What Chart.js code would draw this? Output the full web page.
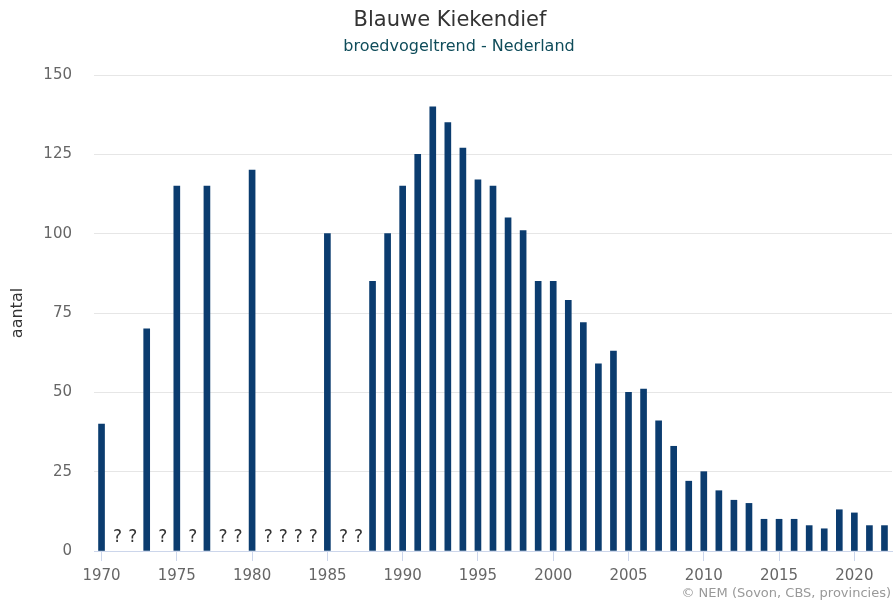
<!DOCTYPE html>
<html>
<head>
<meta charset="utf-8">
<script src="https://cdn.jsdelivr.net/npm/chart.js@4.4.1/dist/chart.umd.min.js"></script>
<style>
  html, body { margin: 0; padding: 0; background: #fff; }
  #wrap { width: 893px; height: 604px; position: relative; }
</style>
</head>
<body>
<div id="wrap"><canvas id="c" width="893" height="604"></canvas></div>
<script>
const titleText = "Blauwe Kiekendief";
const subtitleText = "broedvogeltrend - Nederland";
const yAxisTitle = "aantal";
const creditText = "© NEM (Sovon, CBS, provincies)";
const missingMark = "?";

const years = [];
for (let y = 1970; y <= 2022; y++) years.push(y);

// null = no count (shown as "?")
const counts = [
  40, null, null, 70, null, 115, null, 115, null, null,   // 1970-1979
  120, null, null, null, null, 100, null, null, 85, 100,  // 1980-1989
  115, 125, 140, 135, 127, 117, 115, 105, 101, 85,        // 1990-1999
  85, 79, 72, 59, 63, 50, 51, 41, 33, 22,                 // 2000-2009
  25, 19, 16, 15, 10, 10, 10, 8, 7, 13,                   // 2010-2019
  12, 8, 8                                                // 2020-2022
];

const yTicks = [0, 25, 50, 75, 100, 125, 150];
const xTickEvery = 5;

const FONT = "'DejaVu Sans', sans-serif";

const extras = {
  id: 'extras',
  afterDatasetsDraw(chart) {
    const ctx = chart.ctx;
    const xs = chart.scales.x, ys = chart.scales.y;
    ctx.save();
    ctx.fillStyle = '#333333';
    ctx.font = "17px " + FONT;
    ctx.textAlign = 'center';
    ctx.textBaseline = 'middle';
    counts.forEach((v, i) => {
      if (v === null) {
        ctx.fillText(missingMark, xs.getPixelForValue(i) + 1, ys.getPixelForValue(0) - 13);
      }
    });
    ctx.restore();
  },
  afterDraw(chart) {
    const ctx = chart.ctx;
    ctx.save();
    ctx.textAlign = 'center';
    ctx.textBaseline = 'middle';
    ctx.fillStyle = '#333333';
    ctx.font = "21px " + FONT;
    ctx.fillText(titleText, 450, 21);
    ctx.fillStyle = '#0f4c5a';
    ctx.font = "16px " + FONT;
    ctx.fillText(subtitleText, 459, 47);
    ctx.textAlign = 'right';
    ctx.fillStyle = '#999999';
    ctx.font = "13px " + FONT;
    ctx.fillText(creditText, 891, 594);
    ctx.restore();
  }
};

new Chart(document.getElementById('c'), {
  type: 'bar',
  data: {
    labels: years,
    datasets: [{
      data: counts,
      backgroundColor: '#0b3c6f',
      borderWidth: 0,
      barThickness: 6
    }]
  },
  options: {
    responsive: false,
    animation: false,
    layout: { padding: { top: 75, right: 1, bottom: 0, left: 0 } },
    plugins: {
      legend: { display: false },
      tooltip: { enabled: false },
      title: { display: false }
    },
    scales: {
      x: {
        type: 'category',
        offset: true,
        afterFit(scale) { scale.height = 53; },
        border: { display: true, color: '#ccd6eb', width: 1 },
        grid: {
          offset: false,
          drawOnChartArea: false,
          drawTicks: true,
          tickLength: 10,
          color: (c) => (years[c.index] % xTickEvery === 0 ? '#ccd6eb' : 'rgba(0,0,0,0)')
        },
        ticks: {
          autoSkip: false,
          maxRotation: 0,
          minRotation: 0,
          padding: 6,
          color: '#666666',
          font: { family: FONT, size: 15 },
          callback: (val, idx) => (years[idx] % xTickEvery === 0 ? String(years[idx]) : '')
        }
      },
      y: {
        min: 0,
        max: 150,
        afterFit(scale) { scale.width = 94; },
        afterBuildTicks(scale) { scale.ticks = yTicks.map(v => ({ value: v })); },
        border: { display: false },
        grid: { color: '#e6e6e6', drawTicks: false, lineWidth: 1 },
        ticks: {
          padding: 22,
          color: '#666666',
          font: { family: FONT, size: 15 }
        },
        title: {
          display: true,
          text: yAxisTitle,
          color: '#333333',
          font: { family: FONT, size: 16 },
          padding: { top: 8, bottom: 0 }
        }
      }
    }
  },
  plugins: [extras]
});
</script>
</body>
</html>
